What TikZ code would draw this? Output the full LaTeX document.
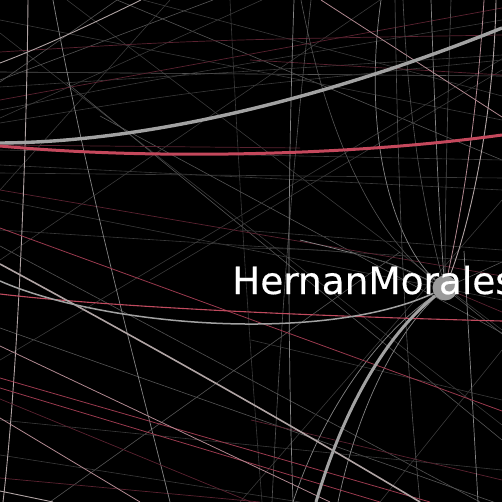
\documentclass[tikz,border=0pt]{standalone}
\usepackage{fontspec}
\newfontfamily\labelfont[FakeBold=0.4]{DejaVu Sans}
\definecolor{thickgray}{HTML}{A2A2A2}
\definecolor{thickred}{HTML}{C4485C}
\definecolor{hubgray}{HTML}{9A9A9A}
\definecolor{fdark}{HTML}{3A3A3A}
\definecolor{fmid}{HTML}{555555}
\definecolor{flight}{HTML}{858585}
\definecolor{fpale}{HTML}{B0A4A4}
\definecolor{rdark}{HTML}{5A2230}
\definecolor{rmid}{HTML}{9A3A4E}
\definecolor{rbright}{HTML}{C04A5E}
\definecolor{pinkg}{HTML}{B08890}
\begin{document}
\begin{tikzpicture}[x=1pt,y=-1pt,
  faint/.style={draw=fdark,line width=0.6pt},
  mid/.style={draw=fmid,line width=0.6pt},
  light/.style={draw=flight,line width=0.7pt},
  pale/.style={draw=fpale,line width=0.9pt},
  reddark/.style={draw=rdark,line width=0.7pt},
  redmid/.style={draw=rmid,line width=0.8pt},
  redbright/.style={draw=rbright,line width=1.1pt},
  pinkline/.style={draw=pinkg,line width=0.8pt},
  heavy/.style={draw=thickgray,line width=3.4pt},
  heavyred/.style={draw=thickred,line width=3pt}]
\fill[black] (0,0) rectangle (502,502);
\useasboundingbox (0,0) rectangle (502,502);
\clip (0,0) rectangle (502,502);
\node[circle,minimum size=25pt,inner sep=0pt] (hub) at (445,288) {};

% faint background lines
\draw[faint] (0,33) -- (502,425);
\draw[faint] (67,0) -- (502,330);
\draw[mid] (117,0) -- (502,160);
\draw[faint] (143,0) -- (502,96);
\draw[mid] (213,0) -- (0,80);
\draw[faint] (262,0) -- (0,118);
\draw[faint] (0,87) -- (502,55);
\draw[mid] (0,72) -- (502,76);
\draw[faint] (0,110) .. controls (150,80) .. (502,20);
\draw[faint] (0,123) .. controls (200,90) .. (502,60);
\draw[faint] (0,173) -- (502,178);
\draw[faint] (0,200) -- (502,300);
\draw[mid] (67,83) -- (502,440);
\draw[mid] (0,328) -- (502,505);
\draw[mid] (50,502) -- (400,252);
\draw[mid] (0,246) -- (480,502);
\draw[faint] (0,165) -- (502,190);
\draw[mid] (100,116) -- (502,333);
\draw[faint] (0,150) -- (502,160);
\draw[faint] (0,230) -- (502,262);
\draw[faint] (0,420) -- (502,470);
\draw[faint] (0,455) -- (300,502);
\draw[faint] (170,0) -- (0,190);
\draw[faint] (380,0) -- (0,260);
\draw[faint] (502,70) -- (150,280);
\draw[faint] (502,200) -- (240,502);
\draw[faint] (251,340) -- (502,400);
\draw[faint] (240,230) -- (502,250);
\draw[faint] (502,350) -- (380,502);
\draw[faint] (0,20) -- (502,120);
\draw[faint] (600,0) -- (0,360);
\draw[reddark] (0,52) .. controls (200,40) .. (502,35);
\draw[reddark] (0,190) -- (502,276);
\draw[reddark] (251,420) -- (502,480);
\draw[reddark] (0,100) -- (502,8);
\draw[reddark] (250,60) -- (502,75);
\draw[reddark] (0,145) -- (300,148);
\draw[reddark] (0,478) -- (260,502);

% lines converging on the hub
\draw[mid] (301,0) .. controls (330,150) and (380,240) .. (hub);
\draw[mid] (311,0) .. controls (300,100) and (284,251) .. (272,502);
\draw[light] (381,0) .. controls (360,150) and (400,250) .. (hub);
\draw[mid] (403,0) .. controls (410,150) and (430,230) .. (hub);
\draw[light] (431,0) .. controls (436,150) and (440,230) .. (hub);
\draw[mid] (451,0) .. controls (447,120) and (445,220) .. (hub);
\draw[pinkline] (484,0) .. controls (475,150) and (455,240) .. (hub);
\draw[pale] (496,0) .. controls (494,120) and (468,230) .. (hub);
\draw[mid] (hub) -- (502,262);
\draw[reddark] (hub) -- (502,312);
\draw[mid] (hub) -- (502,334);
\draw[light] (hub) .. controls (390,262) .. (300,240);
\draw[faint] (hub) .. controls (360,250) .. (240,248);
\draw[light] (464,251) -- (478,502);
\draw[light] (293,502) .. controls (320,420) and (370,340) .. (hub);
\draw[light] (338,502) .. controls (355,420) and (390,340) .. (hub);

% vertical-ish lines
\draw[light] (294,0) .. controls (287,200) and (288,350) .. (293,502);
\draw[pale] (28,0) .. controls (26,200) and (15,400) .. (3,502);
\draw[light] (53,0) .. controls (90,200) and (140,380) .. (170,502);
\draw[mid] (395,0) .. controls (398,200) and (405,350) .. (420,502);
\draw[faint] (230,0) .. controls (240,200) and (250,350) .. (262,502);

% medium diagonal lines
\draw[pinkline] (321,0) -- (502,117);
\draw[mid] (0,82) -- (117,0);
\draw[pale] (0,63) .. controls (40,48) and (90,25) .. (141,0);
\draw[redmid] (0,228) -- (502,411);
\draw[redbright] (0,294) .. controls (100,306) and (300,316) .. (502,321);
\draw[redmid] (0,378) -- (430,502);
\draw[redmid] (0,388) -- (380,502);
\draw[reddark] (0,399) -- (251,502);
\draw[pinkline] (0,346) -- (330,502);
\draw[pinkline] (0,418) -- (140,502);
\draw[pale] (0,491) -- (53,502);
\draw[pale,line width=1.6pt] (0,264) .. controls (150,345) and (300,430) .. (420,502);
\draw[draw=thickgray,line width=1.5pt] (0,281) .. controls (100,325) and (320,345) .. (hub);

% heavy curves
\draw[heavy] (0,143) .. controls (170,142) and (360,85) .. (502,28);
\draw[heavyred] (0,146) .. controls (150,160) and (350,156) .. (502,135);
\draw[draw=thickgray,line width=3pt] (316,502) .. controls (340,420) and (380,340) .. (hub);

\fill[hubgray] (hub.center) circle (12.5);
\node[anchor=base west,text=white,inner sep=0pt,font=\labelfont\fontsize{37.4}{40}\selectfont] (label) at (232,294) {HernanMorales};
\end{tikzpicture}
\end{document}
